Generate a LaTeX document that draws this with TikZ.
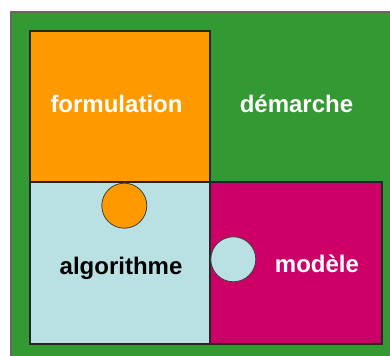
\documentclass[tikz,border=0pt]{standalone}
\usepackage{fontspec}
\setmainfont{Liberation Sans}
\usepackage{tikz}

\definecolor{grfond}{HTML}{339933}
\definecolor{orform}{HTML}{FF9900}
\definecolor{blalgo}{HTML}{B9E0E3}
\definecolor{rgmod}{HTML}{CC0066}

\tikzset{
  piece/.style={draw=black!85, line width=0.8pt},
  mot/.style={inner sep=0.75pt, font=\bfseries\fontsize{18}{20}\selectfont}
}

\begin{document}
\begin{tikzpicture}[x=0.75pt,y=0.75pt,yscale=-1,xscale=1]
\useasboundingbox (0,0) rectangle (390,356);

%Shape: Rectangle [fond]
\draw [draw=black!60, fill=grfond, line width=0.8pt]  (11,12) -- (400,12) -- (400,366) -- (11,366) -- cycle ;
%Shape: Rectangle [formulation]
\draw [piece, fill=orform]  (30,31) -- (210,31) -- (210,182) -- (30,182) -- cycle ;
%Shape: Rectangle [algorithme]
\draw [piece, fill=blalgo]  (30,182) -- (210,182) -- (210,344) -- (30,344) -- cycle ;
%Shape: Rectangle [modele]
\draw [piece, fill=rgmod]  (210,182) -- (382,182) -- (382,344) -- (210,344) -- cycle ;
%Shape: Circle
\draw [draw=black!75, fill=orform, line width=0.6pt]  (124.3,205.7) circle (22.5) ;
%Shape: Circle
\draw [draw=black!75, fill=blalgo, line width=0.6pt]  (233.3,259.3) circle (22.5) ;

% Text Node
\node (formulation) [mot, text=white] at (116.5,104) {formulation};
% Text Node
\node (demarche) [mot, text=white] at (296.5,104) {démarche};
% Text Node
\node (algorithme) [mot, text=black] at (121,268) {algorithme};
% Text Node
\node (modele) [mot, text=white] at (317,264) {modèle};

\end{tikzpicture}
\end{document}
